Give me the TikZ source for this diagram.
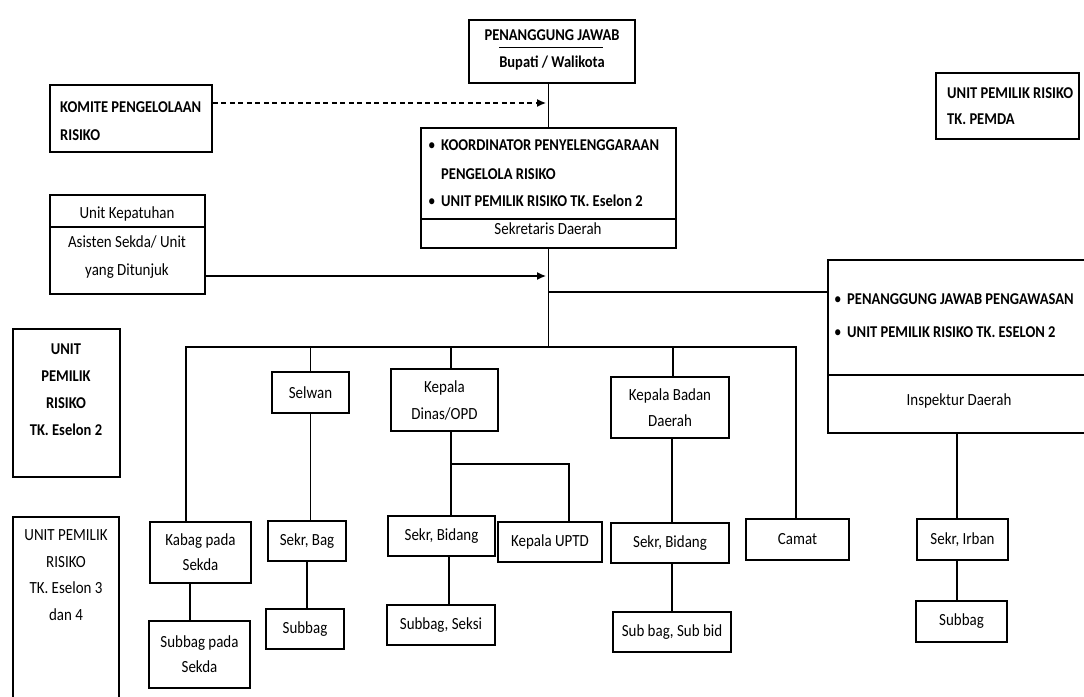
\documentclass[tikz,border=0pt]{standalone}
\usepackage{fontspec}
\setmainfont{Carlito}[FakeStretch=0.88]
\usetikzlibrary{arrows.meta}
\begin{document}
\begin{tikzpicture}[x=1pt,y=-1pt,
  every node/.style={font=\fontsize{17}{25}\selectfont, inner sep=0pt},
  box/.style={draw, line width=1.5pt, align=center},
  conn/.style={line width=1.3pt},
  lbl/.style={align=center, anchor=mid},
  lblw/.style={anchor=mid west},
  mlw/.style={anchor=west, align=left},
  mlc/.style={anchor=center, align=center},
  bld/.style={font=\fontsize{16.5}{27}\selectfont\bfseries},
  arr/.style={-{Latex[length=9pt,width=8pt]}}
]
\useasboundingbox (0,0) rectangle (1084,696);
\clip (0,0) rectangle (1084,696);

% ---- top: penanggung jawab
\node[box, minimum width=166pt, minimum height=63pt] (pj) at (552,51.5) {};
\node[lbl, bld] (pjt) at (552,38) {PENANGGUNG JAWAB};
\draw[line width=1.3pt] ([xshift=15pt,yshift=-7pt]pjt.south west) -- ([xshift=-17pt,yshift=-7pt]pjt.south east);
\node[lbl, bld] (pjb) at (552,65) {Bupati / Walikota};

% ---- koordinator
\node[box, minimum width=255pt, minimum height=120pt] (koord) at (548.5,188) {};
\draw[line width=1.5pt] ([yshift=30pt]koord.south west) -- ([yshift=30pt]koord.south east);
\node[lblw] (kb1) at (428,148) {\textbullet};
\node[lblw, bld] (k1) at (441,148) {KOORDINATOR PENYELENGGARAAN};
\node[lblw, bld] (k2) at (441,177) {PENGELOLA RISIKO};
\node[lblw] (kb2) at (428,204) {\textbullet};
\node[lblw, bld] (k3) at (441,204) {UNIT PEMILIK RISIKO TK. Eselon 2};
\node[lbl] (ksd) at (548,232) {Sekretaris Daerah};

% ---- komite
\node[box, minimum width=162pt, minimum height=67pt] (komite) at (131,118.5) {};
\node[mlw, font=\fontsize{16.5}{28}\selectfont\bfseries] (komt) at (60,121) {KOMITE PENGELOLAAN\\RISIKO};

% ---- unit kepatuhan
\node[box, minimum width=155pt, minimum height=99pt] (kep) at (127.5,244.5) {};
\draw[line width=1.5pt] ([yshift=68pt]kep.south west) -- ([yshift=68pt]kep.south east);
\node[lbl] (kept) at (127,216) {Unit Kepatuhan};
\node[mlc, font=\fontsize{17}{28}\selectfont] (kepb) at (127,257) {Asisten Sekda/ Unit\\yang Ditunjuk};

% ---- pemda
\node[box, minimum width=143pt, minimum height=66pt] (pemda) at (1007.5,106) {};
\node[mlw, font=\fontsize{16.5}{26}\selectfont\bfseries] (pemdat) at (947,106) {UNIT PEMILIK RISIKO\\TK. PEMDA};

% ---- inspektur
\node[box, minimum width=267pt, minimum height=173pt] (insp) at (961.5,346.5) {};
\draw[line width=1.5pt] ([yshift=59pt]insp.south west) -- ([yshift=59pt]insp.south east);
\node[lblw] (ib1) at (834,302) {\textbullet};
\node[lblw, bld] (i1) at (847,302) {PENANGGUNG JAWAB PENGAWASAN};
\node[lblw] (ib2) at (834,335) {\textbullet};
\node[lblw, bld] (i2) at (847,335) {UNIT PEMILIK RISIKO TK. ESELON 2};
\node[lbl] (it) at (959,403) {Inspektur Daerah};

% ---- left legend boxes
\node[box, minimum width=107pt, minimum height=148pt] (ue2) at (66.5,403) {};
\node[mlc, font=\fontsize{16.5}{27}\selectfont\bfseries] (ue2t) at (66,390) {UNIT\\PEMILIK\\RISIKO\\TK. Eselon 2};
\node[box, minimum width=106pt, minimum height=188pt] (ue34) at (66,611) {};
\node[mlc, font=\fontsize{17}{26.5}\selectfont] (ue34t) at (66,575) {UNIT PEMILIK\\RISIKO\\TK. Eselon 3\\dan 4};

% ---- lower boxes
\node[box, minimum width=101pt, minimum height=61pt] (kabag) at (200.5,552.5) {Kabag pada\\Sekda};
\node[box, minimum width=101pt, minimum height=67pt] (sps) at (199.5,654.5) {Subbag pada\\Sekda};
\node[box, minimum width=77pt, minimum height=41pt] (selwan) at (310.5,392.5) {Selwan};
\node[box, minimum width=78pt, minimum height=40pt] (sbag) at (307,541) {Sekr, Bag};
\node[box, minimum width=78pt, minimum height=40pt] (subbag1) at (305,629) {Subbag};
\node[box, minimum width=107pt, minimum height=62pt, font=\fontsize{17}{27}\selectfont] (kdinas) at (444.5,400) {Kepala\\Dinas/OPD};
\node[box, minimum width=107pt, minimum height=40pt] (sbid1) at (441.5,536) {Sekr, Bidang};
\node[box, minimum width=104pt, minimum height=40pt] (uptd) at (550,542) {Kepala UPTD};
\node[box, minimum width=108pt, minimum height=40pt] (sseksi) at (441,625) {Subbag, Seksi};
\node[box, minimum width=118pt, minimum height=61pt, font=\fontsize{17}{26}\selectfont] (kbadan) at (670,407.5) {Kepala Badan\\Daerah};
\node[box, minimum width=118pt, minimum height=40pt] (sbid2) at (670,543) {Sekr, Bidang};
\node[box, minimum width=118pt, minimum height=40pt] (ssub) at (672,632) {Sub bag, Sub bid};
\node[box, minimum width=103pt, minimum height=41pt] (camat) at (797.5,539.5) {Camat};
\node[box, minimum width=91pt, minimum height=41pt] (sirban) at (962.5,539.5) {Sekr, Irban};
\node[box, minimum width=91pt, minimum height=41pt] (subbag2) at (961.5,621.5) {Subbag};

% ---- connectors
\coordinate (dashend) at (546,103);
\draw[conn, dash pattern=on 5pt off 3.5pt, arr] (komite.east |- dashend) -- (dashend);
\draw[conn] (koord.north |- pj.south) -- (koord.north);
\coordinate (barmid) at (548,347);
\draw[conn] (koord.south) -- (koord.south |- barmid);
\coordinate (kepin) at (546,276);
\draw[conn, arr] (kep.east |- kepin) -- (kepin);
\coordinate (inspin) at (548,292);
\draw[conn] (inspin) -- (insp.west |- inspin);
\coordinate (barL) at (186,347);
\coordinate (barR) at (796,347);
\draw[conn] (barL |- kabag.north) -- (barL) -- (barR) -- (barR |- camat.north);
\draw[conn] (selwan.north |- barL) -- (selwan.north);
\coordinate (bkd) at (451,347);
\draw[conn] (bkd) -- (bkd |- kdinas.north);
\coordinate (bkb) at (673,347);
\draw[conn] (bkb) -- (bkb |- kbadan.north);
\coordinate (ks) at (190,0);
\draw[conn] (kabag.south -| ks) -- (sps.north -| ks);
\draw[conn] (selwan.south) -- (selwan.south |- sbag.north);
\draw[conn] (sbag.south) -- (sbag.south |- subbag1.north);
\coordinate (jn) at (451,464);
\coordinate (ju) at (569,464);
\draw[conn] (kdinas.south -| jn) -- (jn) -- (jn |- sbid1.north);
\draw[conn] (jn) -- (ju) -- (ju |- uptd.north);
\coordinate (sx) at (449,0);
\draw[conn] (sbid1.south -| sx) -- (sseksi.north -| sx);
\coordinate (bx) at (672,0);
\draw[conn] (kbadan.south -| bx) -- (sbid2.north -| bx);
\draw[conn] (sbid2.south -| bx) -- (ssub.north -| bx);
\coordinate (ix) at (957,0);
\draw[conn] (insp.south -| ix) -- (sirban.north -| ix);
\draw[conn] (sirban.south -| ix) -- (subbag2.north -| ix);
\end{tikzpicture}
\end{document}
